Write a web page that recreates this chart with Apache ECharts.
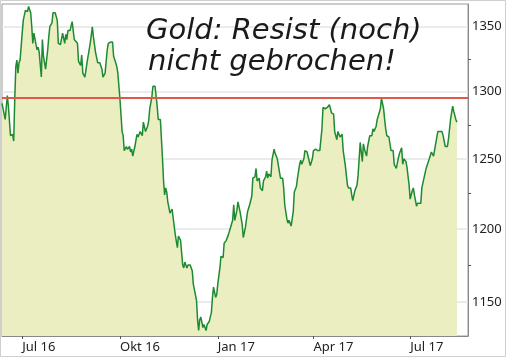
<!DOCTYPE html>
<html>
<head>
<meta charset="utf-8">
<script src="https://cdn.jsdelivr.net/npm/echarts@6/dist/echarts.min.js"></script>
<style>html,body{margin:0;padding:0;background:#fff}#c{width:506px;height:357px}</style>
</head>
<body>
<div id="c"></div>
<script>
const dates = ['2016-06-12','2016-06-13','2016-06-15','2016-06-17','2016-06-18','2016-06-20','2016-06-22','2016-06-23','2016-06-24','2016-06-25','2016-06-26','2016-06-27','2016-06-28','2016-06-29',
'2016-07-01','2016-07-02','2016-07-04','2016-07-06','2016-07-07','2016-07-09','2016-07-10','2016-07-11','2016-07-12','2016-07-14','2016-07-15','2016-07-16','2016-07-17','2016-07-19','2016-07-20','2016-07-21','2016-07-23','2016-07-25','2016-07-26','2016-07-27','2016-07-29','2016-07-30',
'2016-08-01','2016-08-03','2016-08-04','2016-08-06','2016-08-08','2016-08-09','2016-08-10','2016-08-11','2016-08-12','2016-08-13','2016-08-15','2016-08-17','2016-08-18','2016-08-19','2016-08-22','2016-08-23','2016-08-25','2016-08-26','2016-08-27','2016-08-29','2016-08-31',
'2016-09-01','2016-09-03','2016-09-05','2016-09-06','2016-09-08','2016-09-10','2016-09-11','2016-09-12','2016-09-14','2016-09-15','2016-09-17','2016-09-19','2016-09-20','2016-09-22','2016-09-24','2016-09-25','2016-09-27','2016-09-28','2016-09-29',
'2016-10-01','2016-10-03','2016-10-04','2016-10-05','2016-10-07','2016-10-08','2016-10-10','2016-10-11','2016-10-12','2016-10-13','2016-10-15','2016-10-17','2016-10-18','2016-10-20','2016-10-22','2016-10-23','2016-10-25','2016-10-27','2016-10-28','2016-10-29','2016-10-31',
'2016-11-01','2016-11-03','2016-11-05','2016-11-06','2016-11-08','2016-11-10','2016-11-11','2016-11-12','2016-11-13','2016-11-14','2016-11-15','2016-11-17','2016-11-19','2016-11-20','2016-11-22','2016-11-24','2016-11-25','2016-11-27','2016-11-29','2016-11-30',
'2016-12-01','2016-12-03','2016-12-04','2016-12-06','2016-12-08','2016-12-09','2016-12-10','2016-12-12','2016-12-13','2016-12-14','2016-12-15','2016-12-16','2016-12-18','2016-12-19','2016-12-21','2016-12-22','2016-12-24','2016-12-26','2016-12-27','2016-12-28','2016-12-30','2016-12-31',
'2017-01-01','2017-01-03','2017-01-04','2017-01-06','2017-01-07','2017-01-09','2017-01-11','2017-01-13','2017-01-15','2017-01-16','2017-01-17','2017-01-18','2017-01-19','2017-01-20','2017-01-22','2017-01-24','2017-01-25','2017-01-27','2017-01-29','2017-01-30','2017-01-31',
'2017-02-02','2017-02-03','2017-02-05','2017-02-06','2017-02-07','2017-02-09','2017-02-10','2017-02-12','2017-02-13','2017-02-15','2017-02-16','2017-02-17','2017-02-18','2017-02-20','2017-02-21','2017-02-23','2017-02-24','2017-02-26','2017-02-27',
'2017-03-01','2017-03-03','2017-03-04','2017-03-05','2017-03-07','2017-03-08','2017-03-09','2017-03-11','2017-03-13','2017-03-14','2017-03-16','2017-03-17','2017-03-19','2017-03-20','2017-03-21','2017-03-23','2017-03-24','2017-03-26','2017-03-27','2017-03-29','2017-03-31',
'2017-04-01','2017-04-03','2017-04-05','2017-04-07','2017-04-09','2017-04-10','2017-04-12','2017-04-14','2017-04-15','2017-04-16','2017-04-18','2017-04-19','2017-04-20','2017-04-21','2017-04-23','2017-04-24','2017-04-26','2017-04-28','2017-04-29',
'2017-05-01','2017-05-03','2017-05-04','2017-05-06','2017-05-07','2017-05-08','2017-05-10','2017-05-12','2017-05-13','2017-05-15','2017-05-17','2017-05-18','2017-05-19','2017-05-21','2017-05-22','2017-05-23','2017-05-24','2017-05-26','2017-05-27','2017-05-28','2017-05-30','2017-05-31',
'2017-06-01','2017-06-03','2017-06-04','2017-06-06','2017-06-07','2017-06-08','2017-06-09','2017-06-11','2017-06-13','2017-06-15','2017-06-16','2017-06-18','2017-06-20','2017-06-21','2017-06-23','2017-06-24','2017-06-25','2017-06-27','2017-06-28','2017-06-30',
'2017-07-01','2017-07-03','2017-07-04','2017-07-05','2017-07-07','2017-07-08','2017-07-09','2017-07-11','2017-07-12','2017-07-14','2017-07-16','2017-07-17','2017-07-19','2017-07-21','2017-07-22','2017-07-23','2017-07-25','2017-07-26','2017-07-27','2017-07-29','2017-07-31',
'2017-08-01','2017-08-03','2017-08-05','2017-08-06','2017-08-08','2017-08-10','2017-08-11','2017-08-13','2017-08-14'];

const prices = [1291,1292,1279,1297,1289,1267,1268,1263,1294,1319,1324,1314,1322,1324,
1345,1355,1363,1362,1366,1361,1350,1337,1345,1336,1332,1334,1330,1311,1340,1327,1317,1332,1342,1350,1353,1361,
1361,1355,1337,1336,1345,1346,1337,1344,1340,1347,1347,1354,1347,1340,1337,1323,1320,1328,1314,1311,1322,
1327,1337,1350,1342,1330,1322,1323,1322,1317,1311,1314,1332,1337,1338,1338,1327,1322,1319,1314,
1294,1270,1267,1256,1259,1257,1259,1255,1257,1252,1259,1268,1266,1270,1267,1277,1270,1274,1278,1287,1296,
1304,1304,1289,1279,1279,1250,1234,1224,1229,1226,1219,1211,1214,1213,1196,1187,1195,1192,1175,1173,
1177,1173,1175,1175,1171,1162,1163,1151,1138,1131,1138,1140,1133,1135,1131,1135,1137,1143,1153,1160,1153,1155,
1162,1173,1181,1180,1190,1192,1196,1201,1206,1217,1206,1207,1213,1219,1212,1203,1194,1201,1212,1211,1217,
1223,1236,1237,1243,1234,1236,1229,1227,1234,1237,1241,1236,1239,1237,1249,1257,1254,1250,1250,
1236,1236,1229,1217,1207,1204,1206,1202,1212,1226,1230,1236,1246,1249,1246,1250,1256,1255,1256,1245,1250,
1256,1257,1256,1256,1272,1288,1287,1288,1287,1290,1284,1285,1283,1270,1264,1270,1266,1268,1256,
1245,1231,1229,1229,1224,1220,1227,1231,1238,1262,1248,1261,1257,1252,1259,1259,1267,1267,1272,1270,1274,1279,
1279,1287,1295,1287,1279,1272,1267,1266,1256,1256,1246,1243,1251,1254,1258,1246,1250,1248,1244,1231,
1221,1227,1229,1224,1216,1218,1219,1218,1229,1236,1243,1244,1250,1255,1255,1252,1261,1262,1270,1270,1270,
1267,1259,1259,1264,1279,1289,1285,1279,1277];

const resistance = 1295;
const xRange = ['2016-06-12','2017-08-24'];
const xTickDates = ['2016-07-01','2016-10-01','2017-01-01','2017-04-01','2017-07-01'];
const xTickLabels = ['Jul 16','Okt 16','Jan 17','Apr 17','Jul 17'];
const yTickValues = [1150,1200,1250,1300,1350];
const yMinorTicks = [1175,1225,1275,1325];
const yRange = [1127.4,1368];
const titleLines = ['Gold: Resist (noch)','nicht gebrochen!'];

function ts(s){const p=s.split('-');return Date.UTC(+p[0],+p[1]-1,+p[2]);}
const DAY = 86400000;
const xTickTs = xTickDates.map(ts);
const labelMap = {};
xTickTs.forEach((t,i)=>{labelMap[t]=xTickLabels[i];});

const chart = echarts.init(document.getElementById('c'), null, {renderer:'canvas'});
const font = "'Noto Sans', sans-serif";
const titleFont = "italic 29px 'DejaVu Sans', sans-serif";
chart.setOption({
  animation:false,
  backgroundColor:'#fff',
  grid:{left:2,right:38,top:4,bottom:21,show:true,borderColor:'#9a9a9a',borderWidth:1,backgroundColor:'#fff',outerBoundsMode:'none'},
  xAxis:{
    type:'value',
    min:ts(xRange[0]),
    max:ts(xRange[1])+0.42*DAY,
    axisLine:{show:true,onZero:false,lineStyle:{color:'#888',width:1}},
    axisTick:{show:true,customValues:xTickTs,length:3,lineStyle:{color:'#555'}},
    axisLabel:{customValues:xTickTs,align:'left',margin:5,color:'#222',fontSize:13,fontFamily:font,
      formatter:function(v){return labelMap[v]!==undefined?labelMap[v]:'';}},
    splitLine:{show:false}
  },
  yAxis:[{
    type:'log',logBase:10,position:'right',
    min:yRange[0],max:yRange[1],
    axisLine:{show:true,lineStyle:{color:'#888',width:1}},
    axisTick:{show:false,customValues:yTickValues},
    axisLabel:{customValues:yTickValues,margin:4,color:'#222',fontSize:13,fontFamily:font,formatter:function(v){return String(Math.round(v));}},
    splitLine:{show:true,lineStyle:{color:'#e4e4e4',width:1.5}}
  },{
    type:'log',logBase:10,position:'right',
    min:yRange[0],max:yRange[1],
    axisLine:{show:false},
    axisTick:{show:true,customValues:yMinorTicks,length:3,lineStyle:{color:'#555'}},
    axisLabel:{show:false},
    splitLine:{show:false}
  }],
  series:[{
    type:'line',
    data:dates.map((d,i)=>[ts(d),prices[i]]),
    showSymbol:false,
    lineStyle:{color:'#1e8a32',width:1.5},
    areaStyle:{color:'#eaeec0',opacity:1,origin:'start'},
    z:2,
    markLine:{
      silent:true,symbol:'none',label:{show:false},
      lineStyle:{color:'#e2574c',width:2,type:'solid'},
      data:[{yAxis:resistance}],
      z:5
    }
  }],
  graphic:[
    {type:'text',x:146,y:31,style:{text:titleLines[0],font:titleFont,fill:'#1a1a1a',verticalAlign:'middle'},z:10},
    {type:'text',x:148,y:62,style:{text:titleLines[1],font:titleFont,fill:'#1a1a1a',verticalAlign:'middle'},z:10},
    {type:'rect',shape:{x:0.5,y:0.5,width:505,height:356},style:{fill:'none',stroke:'#cfcfcf',lineWidth:1},z:10,silent:true}
  ]
});
</script>
</body>
</html>
